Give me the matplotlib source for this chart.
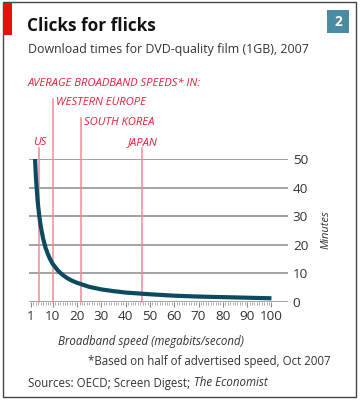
import numpy as np
import matplotlib.pyplot as plt
from matplotlib.patches import Rectangle
from matplotlib.ticker import FixedLocator

# download time for a 1GB film
speed = [2.7, 3.0, 3.3, 3.7, 4.0, 4.5, 5, 6, 7, 8, 9, 10, 12, 14, 16, 18, 20,
         25, 30, 35, 40, 50, 60, 70, 80, 90, 100]
minutes = [50, 44.5, 40.5, 36, 33.3, 29.6, 26.7, 22.2, 19, 16.7, 14.8, 13.3,
           11.1, 9.5, 8.3, 7.4, 6.7, 5.3, 4.4, 3.8, 3.3, 2.7, 2.2, 1.9, 1.7,
           1.5, 1.3]

countries = ["US", "WESTERN EUROPE", "SOUTH KOREA", "JAPAN"]
country_speed = [4.5, 10.0, 21.7, 46.8]

xticks = [1, 10, 20, 30, 40, 50, 60, 70, 80, 90, 100]
yticks = [0, 10, 20, 30, 40, 50]

RED = "#e3203a"
PINK = "#f08a96"
TEAL = "#0b4a60"
GRID = "#8a8a8a"
TXT = "#333333"

plt.rcParams["font.family"] = ["Open Sans", "DejaVu Sans"]

W, H = 360, 400
fig = plt.figure(figsize=(W / 100, H / 100), dpi=100)


def px(x, y):
    return x / W, 1 - y / H


# frame, red tab, number box
fig.patches.append(Rectangle(px(2.5, 397), 353 / W, 395 / H, transform=fig.transFigure,
                             fill=False, ec="#444444", lw=1.0))
fig.patches.append(Rectangle(px(3, 35), 9 / W, 32 / H, transform=fig.transFigure,
                             fc="#e3120b", ec="none"))
fig.patches.append(Rectangle(px(327, 33), 22 / W, 23 / H, transform=fig.transFigure,
                             fc="#4b8aa3", ec="none"))
fig.text(*px(338, 21.5), "2", color="white", fontsize=10, fontweight="bold",
         ha="center", va="center")

fig.text(*px(27, 26), "Clicks for flicks", fontsize=12.3, fontweight="bold",
         color="#111111", va="center")
fig.text(*px(28, 50), "Download times for DVD-quality film (1GB), 2007",
         fontsize=8.9, color=TXT, va="center")
fig.text(*px(28, 83), "AVERAGE BROADBAND SPEEDS* IN:", fontsize=8.1,
         style="italic", color=RED, va="center")

ax = fig.add_axes([28.5 / W, 1 - 302 / H, (288 - 28.5) / W, (302 - 159) / H])
ax.set_xlim(0, 106.8)
ax.set_ylim(0, 50)

ax.set_yticks(yticks)
ax.yaxis.tick_right()
ax.tick_params(axis="y", length=0, pad=3.5, labelsize=9.7, labelcolor=TXT)
ax.grid(axis="y", color=GRID, lw=1.1)
ax.set_axisbelow(True)
for sp in ax.spines.values():
    sp.set_visible(False)

ax.xaxis.set_major_locator(FixedLocator(xticks))
ax.xaxis.set_minor_locator(FixedLocator(np.arange(1, 101)))
ax.tick_params(axis="x", which="major", length=3.5, width=0.8, color=GRID,
               pad=2.5, labelsize=9.7, labelcolor=TXT)
ax.tick_params(axis="x", which="minor", length=1.8, width=0.5, color=GRID)

# country markers
label_y = {"US": 55.9, "WESTERN EUROPE": 69.6, "SOUTH KOREA": 62.6, "JAPAN": 55.9}
line_top = {"US": 53.8, "WESTERN EUROPE": 71.0, "SOUTH KOREA": 64.3, "JAPAN": 53.8}
for name, sp in zip(countries, country_speed):
    ax.plot([sp, sp], [0, line_top[name]], color=PINK, lw=1.1, clip_on=False,
            zorder=2)
    if name in ("US", "JAPAN"):
        ax.text(sp, label_y[name], name, ha="center", va="center",
                fontsize=8.1, style="italic", color=RED, clip_on=False)
    else:
        ax.text(sp + 1.2, label_y[name], name, ha="left", va="center",
                fontsize=8.1, style="italic", color=RED, clip_on=False)

ax.plot(speed, minutes, color=TEAL, lw=3.0, solid_capstyle="butt", zorder=3)

fig.text(*px(326, 230), "Minutes", rotation=90, fontsize=8, style="italic",
         color=TXT, ha="center", va="center")
fig.text(*px(151, 342), "Broadband speed (megabits/second)", fontsize=8.3,
         style="italic", color=TXT, ha="center", va="center")
fig.text(*px(331, 362), "*Based on half of advertised speed, Oct 2007",
         fontsize=8.3, color=TXT, ha="right", va="center")
src = fig.text(*px(28, 383), "Sources: OECD; Screen Digest; ", fontsize=8.3,
               color=TXT, va="center")
fig.canvas.draw()
bb = src.get_window_extent()
fig.text(bb.x1 / W + 1 / W, px(0, 383)[1], "The Economist", fontsize=8.3,
         style="italic", color=TXT, va="center")

fig.savefig("out.png", dpi=100)
